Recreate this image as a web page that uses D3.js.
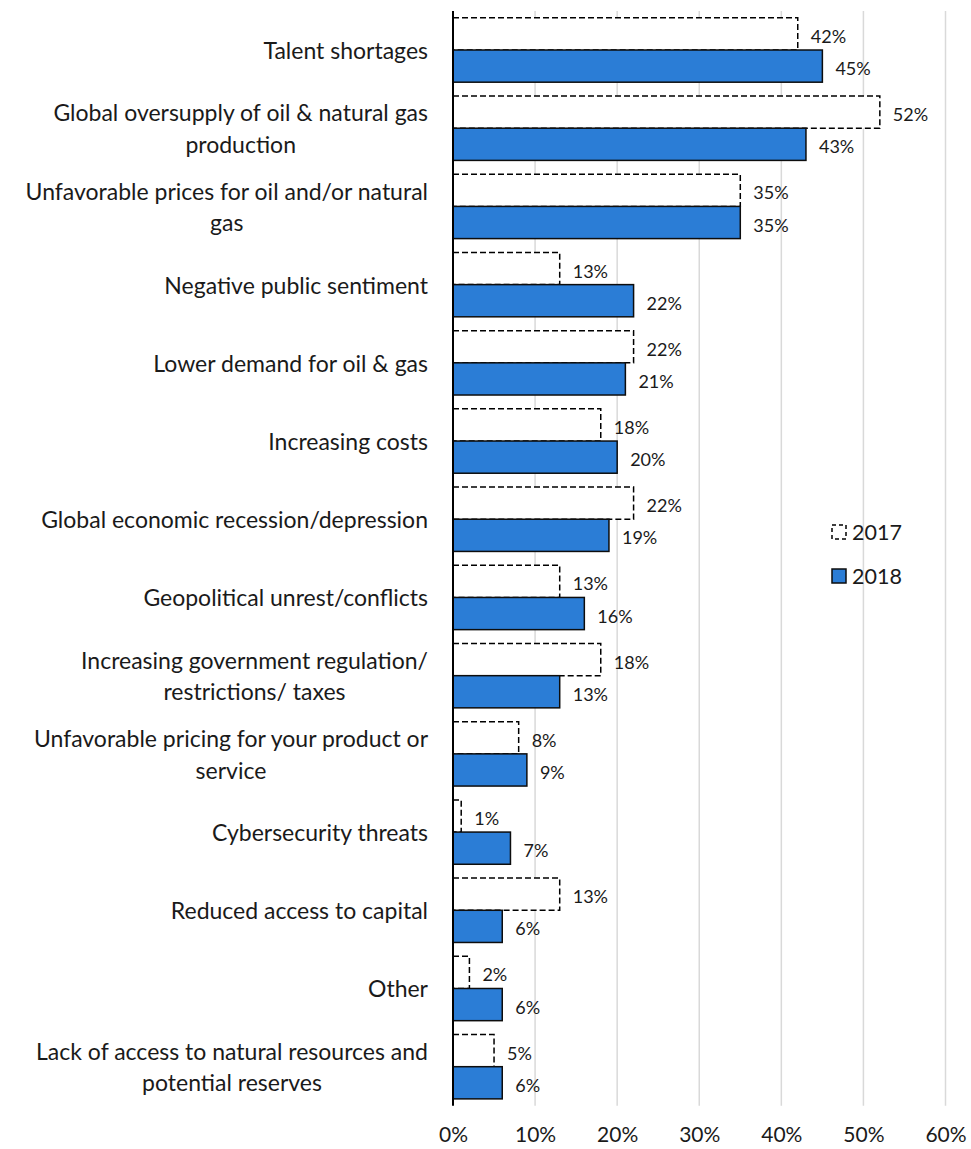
<!DOCTYPE html>
<html>
<head>
<meta charset="utf-8">
<script src="https://cdn.jsdelivr.net/npm/d3@7"></script>
<style>
  html, body { margin: 0; padding: 0; background: #ffffff; }
  svg { display: block; font-family: Lato, "Open Sans", sans-serif; }
</style>
</head>
<body>
<svg id="chart" width="971" height="1149"></svg>
<script>
// Challenges facing the oil & gas industry, share of respondents (%)
const categories = [
  "Talent shortages",
  "Global oversupply of oil & natural gas\nproduction",
  "Unfavorable prices for oil and/or natural\ngas",
  "Negative public sentiment",
  "Lower demand for oil & gas",
  "Increasing costs",
  "Global economic recession/depression",
  "Geopolitical unrest/conflicts",
  "Increasing government regulation/\nrestrictions/ taxes",
  "Unfavorable pricing for your product or\nservice",
  "Cybersecurity threats",
  "Reduced access to capital",
  "Other",
  "Lack of access to natural resources and\npotential reserves"
];
const seriesNames = ["2017", "2018"];
const values2017 = [42, 52, 35, 13, 22, 18, 22, 13, 18, 8, 1, 13, 2, 5];
const values2018 = [45, 43, 35, 22, 21, 20, 19, 16, 13, 9, 7, 6, 6, 6];
const tickValues = [0, 10, 20, 30, 40, 50, 60];

const svg = d3.select("#chart");

const plot = { left: 453, right: 945.5, top: 10.9, bottom: 1105.8 };

const x = d3.scaleLinear().domain([0, 60]).range([plot.left, plot.right]);
const y = d3.scaleBand().domain(categories).range([plot.top, plot.bottom]).padding(0);
const ySeries = d3.scaleBand().domain(seriesNames).range([0, y.bandwidth()])
  .paddingInner(0).paddingOuter(0.215);

const rows = categories.map((c, i) => ({
  category: c,
  entries: [
    { series: "2017", value: values2017[i] },
    { series: "2018", value: values2018[i] }
  ]
}));

const styles = {
  "2017": { fill: "#ffffff", stroke: "#000000", dash: "6,3" },
  "2018": { fill: "#2b7dd6", stroke: "#0d0d0d", dash: null }
};

// vertical gridlines
svg.append("g")
  .selectAll("line")
  .data(tickValues.filter(t => t > 0))
  .join("line")
  .attr("x1", d => x(d)).attr("x2", d => x(d))
  .attr("y1", plot.top).attr("y2", plot.bottom)
  .attr("stroke", "#d9d9d9").attr("stroke-width", 1.5);

// bars
const groups = svg.append("g")
  .selectAll("g")
  .data(rows)
  .join("g")
  .attr("transform", d => `translate(0,${y(d.category)})`);

groups.selectAll("rect")
  .data(d => d.entries)
  .join("rect")
  .attr("x", x(0))
  .attr("y", d => ySeries(d.series))
  .attr("width", d => x(d.value) - x(0))
  .attr("height", ySeries.bandwidth())
  .attr("fill", d => styles[d.series].fill)
  .attr("stroke", d => styles[d.series].stroke)
  .attr("stroke-width", 1.5)
  .attr("stroke-dasharray", d => styles[d.series].dash);

// value labels
groups.selectAll("text.value")
  .data(d => d.entries)
  .join("text")
  .attr("class", "value")
  .attr("x", d => x(d.value) + 13)
  .attr("y", d => ySeries(d.series) + ySeries.bandwidth() / 2 + 2)
  .attr("dominant-baseline", "central")
  .attr("font-size", 18)
  .attr("fill", "#1a1a1a")
  .text(d => d.value + "%");

// category axis line
svg.append("line")
  .attr("x1", x(0)).attr("x2", x(0))
  .attr("y1", plot.top).attr("y2", plot.bottom)
  .attr("stroke", "#000000").attr("stroke-width", 2);

// category labels: block right-aligned to the axis, lines centred inside the block
const labelRight = 428;
const lineGap = 31.5;
const labels = svg.append("g").attr("font-size", 23).attr("fill", "#1a1a1a");
categories.forEach(c => {
  const lines = c.split("\n");
  const cy = y(c) + y.bandwidth() / 2;
  const g = labels.append("g");
  const texts = lines.map((ln, i) => g.append("text")
    .attr("y", cy + (i - (lines.length - 1) / 2) * lineGap)
    .attr("dominant-baseline", "central")
    .text(ln));
  const widths = texts.map(t => t.node().getComputedTextLength());
  const w = d3.max(widths);
  texts.forEach(t => t.attr("x", labelRight - w / 2).attr("text-anchor", "middle"));
});

// value axis tick labels
const xAxis = d3.axisBottom(x)
  .tickValues(tickValues)
  .tickFormat(d => d + "%")
  .tickSize(0)
  .tickPadding(0);
const axisG = svg.append("g")
  .attr("transform", `translate(0,${plot.bottom})`)
  .call(xAxis);
axisG.select(".domain").remove();
axisG.selectAll("text")
  .attr("font-family", "Lato, 'Open Sans', sans-serif")
  .attr("font-size", 21)
  .attr("fill", "#1a1a1a")
  .attr("dy", null)
  .attr("y", 28)
  .attr("dominant-baseline", "central");

// legend
const legend = svg.append("g").attr("transform", "translate(832,0)");
const legendRows = [
  { series: "2017", cy: 532 },
  { series: "2018", cy: 576 }
];
legendRows.forEach(r => {
  legend.append("rect")
    .attr("x", 0).attr("y", r.cy - 7)
    .attr("width", 14).attr("height", 14)
    .attr("fill", styles[r.series].fill)
    .attr("stroke", styles[r.series].stroke)
    .attr("stroke-width", 1.5)
    .attr("stroke-dasharray", r.series === "2017" ? "4,3" : null);
  legend.append("text")
    .attr("x", 20).attr("y", r.cy)
    .attr("dominant-baseline", "central")
    .attr("font-size", 21.5)
    .attr("fill", "#1a1a1a")
    .text(r.series);
});
</script>
</body>
</html>
